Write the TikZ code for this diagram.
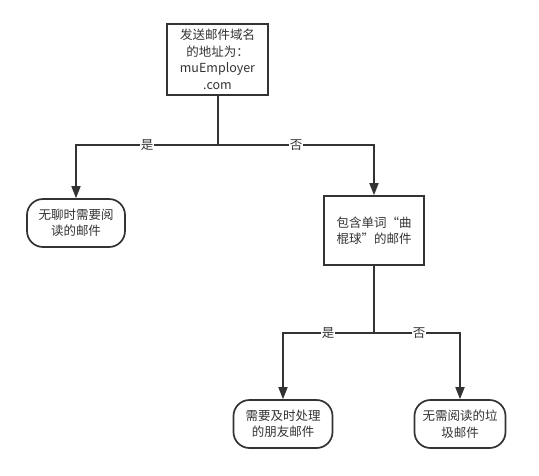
\documentclass[tikz,border=0pt]{standalone}
\usepackage{fontspec}
\setmainfont{Noto Sans CJK SC}
\usetikzlibrary{arrows.meta}
\definecolor{ln}{HTML}{333333}
\begin{document}
\begin{tikzpicture}[x=1pt,y=-1pt,
  every node/.style={font=\fontsize{12.5pt}{16.5pt}\selectfont, text=ln, align=center, inner sep=0pt},
  box/.style={draw=ln, line width=1.7pt, minimum width=#1, fill=white},
  conn/.style={draw=ln, line width=1.7pt},
  arr/.style={conn, -{Triangle[width=9pt,length=12pt]}},
  lab/.style={fill=white, inner sep=1pt}
]
\useasboundingbox (0,0) rectangle (539,475);
\node[box=101pt, minimum height=71pt] (root) at (217.5,59.5) {发送邮件域名\\的地址为：\\muEmployer\\.com};
\node[box=98pt, minimum height=48pt, rounded corners=16pt] (boring) at (76,223) {无聊时需要阅\\读的邮件};
\node[box=100pt, minimum height=69pt] (hockey) at (374,230.5) {包含单词“曲\\棍球”的邮件};
\node[box=99pt, minimum height=48pt, rounded corners=16pt] (friend) at (283,424) {需要及时处理\\的朋友邮件};
\node[box=91pt, minimum height=48pt, rounded corners=16pt] (junk) at (460,424) {无需阅读的垃\\圾邮件};
\coordinate (j1) at (218,145);
\coordinate (j2) at (374,333);
\draw[conn] (root.south -| j1) -- (j1);
\draw[arr] (j1) -- (j1 -| boring) -- (boring.north);
\draw[arr] (j1) -- (j1 -| hockey) -- (hockey.north);
\draw[conn] (hockey.south) -- (j2);
\draw[arr] (j2) -- (j2 -| friend) -- (friend.north);
\draw[arr] (j2) -- (j2 -| junk) -- (junk.north);
\node[lab] (l1) at (147,145) {是};
\node[lab] (l2) at (296,145) {否};
\node[lab] (l3) at (328,333) {是};
\node[lab] (l4) at (419,333) {否};
\end{tikzpicture}
\end{document}
